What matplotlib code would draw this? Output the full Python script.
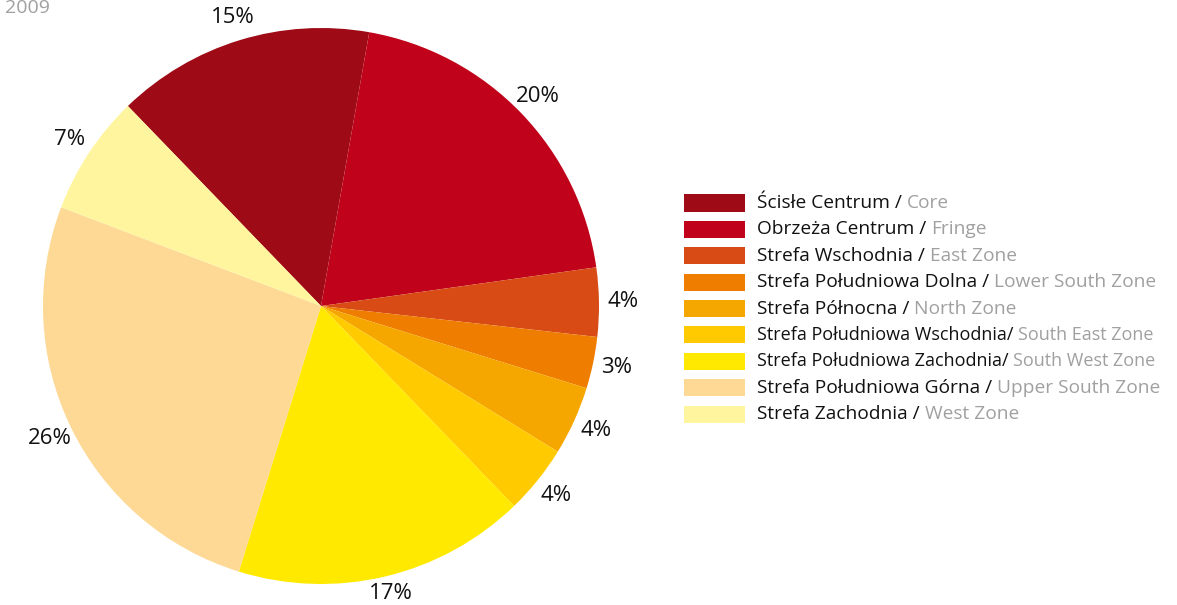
import numpy as np
import matplotlib.pyplot as plt
from matplotlib.patches import Rectangle

plt.rcParams['font.family'] = ['Open Sans', 'DejaVu Sans']

# zone shares in percent, clockwise from the top left
names_pl = ['Ścisłe Centrum', 'Obrzeża Centrum', 'Strefa Wschodnia',
            'Strefa Południowa Dolna', 'Strefa Północna',
            'Strefa Południowa Wschodnia', 'Strefa Południowa Zachodnia',
            'Strefa Południowa Górna', 'Strefa Zachodnia']
names_en = ['Core', 'Fringe', 'East Zone', 'Lower South Zone', 'North Zone',
            'South East Zone', 'South West Zone', 'Upper South Zone',
            'West Zone']
shares = [15, 20, 4, 3, 4, 4, 17, 26, 7]
colors = ['#9e0b16', '#c0031a', '#d84b15', '#ee7d00', '#f5a700',
          '#ffcb00', '#ffe900', '#fdd995', '#fff59e']

W, H = 1177, 605
fig = plt.figure(figsize=(W / 100, H / 100), dpi=100)

# pie centre and radius in pixels
cx, cy, r = 321, 306, 278
ax = fig.add_axes([(cx - r) / W, (H - cy - r) / H, 2 * r / W, 2 * r / H])
wedges, texts = ax.pie(shares, colors=colors, startangle=134,
                       counterclock=False, radius=1.0,
                       labels=['%d%%' % s for s in shares],
                       labeldistance=1.085,
                       textprops=dict(fontsize=16, color='#111111'))
for t in texts:
    t.set_ha('center')
    t.set_va('center')
texts[6].set_va('baseline')
ax.set_xlim(-1, 1)
ax.set_ylim(-1, 1)
ax.axis('off')

fig.text(5 / W, 1 - 8 / H, '2009', fontsize=14, color='#a0a0a0',
         ha='left', va='center')

# legend with two-tone labels; the two longest rows are set a bit tighter
y0, dy = 203, 26.4
for i in range(len(shares)):
    y = y0 + i * dy
    fig.patches.append(Rectangle((684 / W, 1 - (y + 8.5) / H), 61 / W, 17 / H,
                                 transform=fig.transFigure,
                                 color=colors[i], lw=0))
    tight = i in (5, 6)
    sep = '/ ' if tight else ' / '
    fs = 13.0 if tight else 13.8
    t = fig.text(757 / W, 1 - y / H, names_pl[i] + sep, fontsize=fs,
                 color='#111111', ha='left', va='center')
    ax.annotate(names_en[i], xy=(1, 0.5), xycoords=t, fontsize=fs,
                color='#a0a0a0', ha='left', va='center',
                annotation_clip=False)

fig.savefig('out.png', dpi=100)
